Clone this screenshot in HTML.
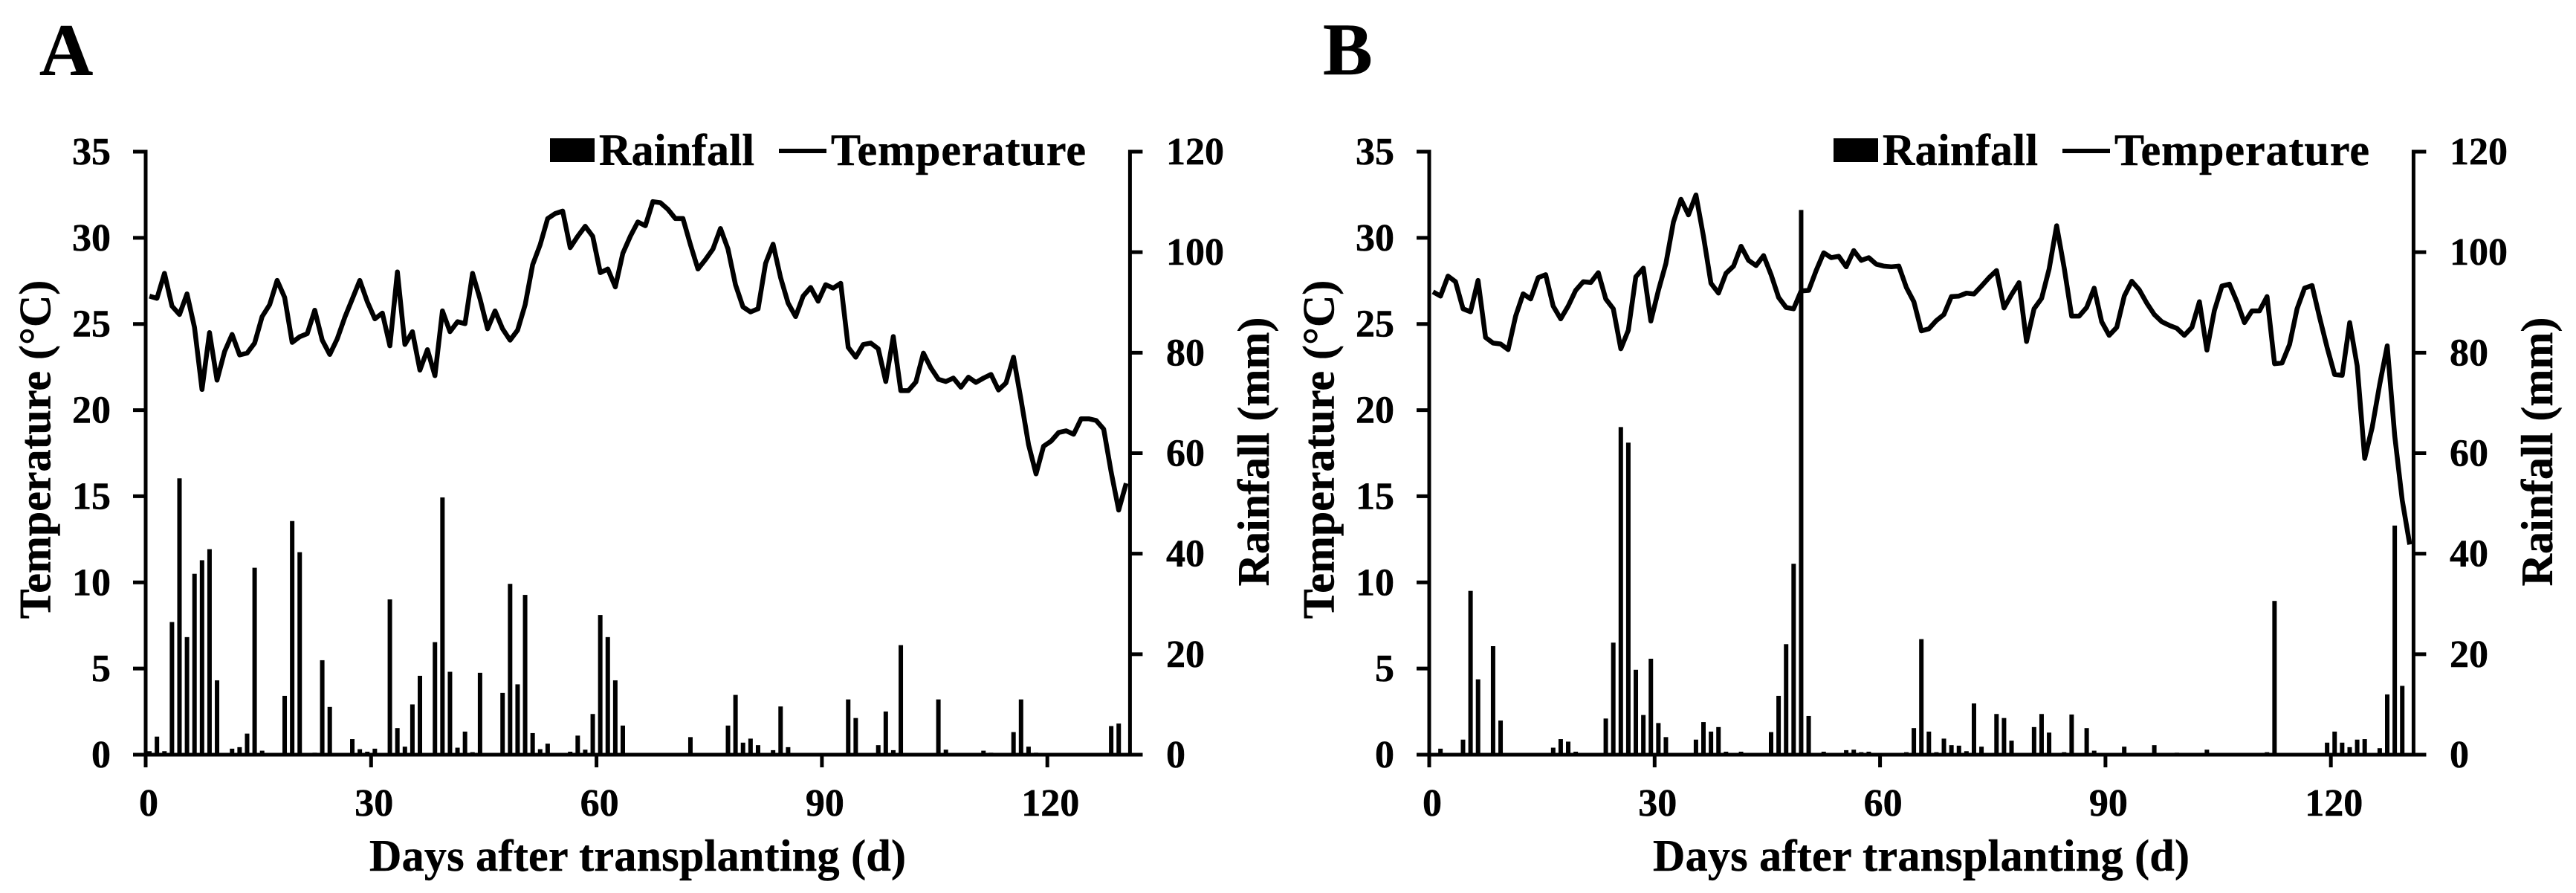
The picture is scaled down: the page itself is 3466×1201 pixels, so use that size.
<!DOCTYPE html>
<html lang="en">
<head>
<meta charset="utf-8">
<title>Rainfall and temperature after transplanting</title>
<style>
html,body{margin:0;padding:0;background:#fff;}
svg{display:block;}
text{font-family:"Liberation Serif","DejaVu Serif",serif;font-weight:bold;fill:#000;stroke:#000;stroke-width:0.5px;}
.tick{font-size:52px;}
.legend,.title{font-size:60px;}
.letter{font-size:100px;}
</style>
</head>
<body>
<svg id="chart" xmlns="http://www.w3.org/2000/svg" width="3466" height="1201" viewBox="0 0 3466 1201">
  <rect x="0" y="0" width="3466" height="1201" fill="#fff"/>

  <g id="panel-a">
    <text class="letter" x="53" y="101">A</text>
    <rect x="740" y="186" width="60" height="32" fill="#000"/>
    <text class="legend" x="806" y="222" textLength="209" lengthAdjust="spacing">Rainfall</text>
    <rect x="1048" y="200" width="64" height="6" fill="#000"/>
    <text class="legend" x="1118" y="222" textLength="343" lengthAdjust="spacing">Temperature</text>
    <text class="title" transform="translate(67.5,604.5) rotate(-90)" text-anchor="middle">Temperature (°C)</text>
    <text class="title" transform="translate(1707,607.5) rotate(-90)" text-anchor="middle">Rainfall (mm)</text>
    <text class="title" x="497" y="1171" textLength="722" lengthAdjust="spacing">Days after transplanting (d)</text>
  </g>

  <g id="panel-b" transform="translate(1727,0)">
    <text class="letter" x="53" y="100">B</text>
    <rect x="740" y="186" width="60" height="32" fill="#000"/>
    <text class="legend" x="806" y="222" textLength="209" lengthAdjust="spacing">Rainfall</text>
    <rect x="1048" y="200" width="64" height="6" fill="#000"/>
    <text class="legend" x="1118" y="222" textLength="343" lengthAdjust="spacing">Temperature</text>
    <text class="title" transform="translate(67.5,604.5) rotate(-90)" text-anchor="middle">Temperature (°C)</text>
    <text class="title" transform="translate(1707,607.5) rotate(-90)" text-anchor="middle">Rainfall (mm)</text>
    <text class="title" x="497" y="1171" textLength="722" lengthAdjust="spacing">Days after transplanting (d)</text>
  </g>
</svg>

<script>
const temperatureTicks = [0, 5, 10, 15, 20, 25, 30, 35];
const rainfallTicks = [0, 20, 40, 60, 80, 100, 120];
const dayTicks = [0, 30, 60, 90, 120];

const rainfallA = [
  0.7,3.6,0.7,26.4,55,23.4,36,38.7,40.9,14.8,
  0,1.2,1.5,4.2,37.2,0.8,0,0,11.7,46.5,
  40.3,0.3,0.4,18.8,9.5,0,0.1,3.1,1.1,0.6,
  1.2,0,30.9,5.3,1.6,10,15.7,0,22.4,51.2,
  16.5,1.4,4.6,0.5,16.3,0,0,12.3,34,14,
  31.8,4.3,1.1,2.2,0.3,0.1,0.6,3.8,1,8.1,
  27.8,23.4,14.8,5.8,0,0,0,0,0,0,
  0,0,3.5,0,0,0,0,5.8,11.9,2.4,
  3.2,1.9,0,0.9,9.6,1.5,0,0,0,0,
  0,0,0,11,7.3,0.2,0.2,1.9,8.6,0.9,
  21.8,0,0,0,0.3,11,1,0,0,0.2,
  0,0.8,0.4,0,0,4.5,11,1.6,0.4,0,
  0,0,0,0,0,0,0,0,5.7,6.2,0
];
const temperatureA = [
  26.62,26.49,27.94,26.04,25.55,26.75,24.8,21.2,24.5,21.74,
  23.4,24.39,23.2,23.31,23.89,25.43,26.12,27.53,26.54,23.93,
  24.26,24.44,25.8,24.06,23.23,24.14,25.38,26.45,27.53,26.29,
  25.3,25.63,23.73,28.02,23.81,24.55,22.32,23.51,22,25.76,
  24.55,25.13,25.02,27.94,26.45,24.72,25.76,24.72,24.06,24.64,
  26.12,28.44,29.6,31.12,31.41,31.55,29.43,30.09,30.67,30.09,
  27.98,28.19,27.15,29.1,30.09,30.92,30.7,32.1,32.04,31.66,
  31.12,31.12,29.6,28.19,28.74,29.35,30.54,29.35,27.28,25.99,
  25.7,25.88,28.52,29.63,27.69,26.21,25.43,26.62,27.12,26.32,
  27.28,27.08,27.36,23.64,23.07,23.81,23.89,23.56,21.66,24.27,
  21.13,21.13,21.63,23.31,22.45,21.79,21.66,21.86,21.33,21.91,
  21.61,21.86,22.07,21.17,21.58,23.07,20.6,18,16.3,17.9,
  18.2,18.7,18.8,18.6,19.5,19.5,19.4,18.9,16.4,14.2,15.75
];
const rainfallB = [
  0,1.2,0,0,3,32.6,15,0,21.6,6.8,
  0,0,0,0,0,0,1.4,3.1,2.6,0.6,
  0,0,0,7.2,22.3,65.2,62.1,16.9,7.9,19.1,
  6.3,3.5,0.2,0,0,3,6.5,4.6,5.5,0.6,
  0,0.6,0,0.2,0.3,4.5,11.7,22,38,108.4,
  7.7,0,0.6,0,0,0.9,1,0.5,0.6,0,
  0,0.2,0,0.5,5.3,23,4.6,0.5,3.2,1.9,
  1.8,0.7,10.2,1.6,0,8.1,7.3,2.8,0,0.3,
  5.5,8.1,4.4,0,0.5,8,0,5.3,0.8,0,
  0.2,0,1.6,0.2,0,0,1.9,0,0,0.4,
  0,0,0,1,0,0,0,0,0,0,
  0,0.5,30.6,0,0,0,0,0,0,2.4,
  4.6,2.4,1.5,3,3.1,0,1.3,12,45.6,13.7,0
];
const temperatureB = [
  26.87,26.62,27.78,27.45,25.88,25.71,27.53,24.22,23.89,23.84,
  23.51,25.46,26.75,26.45,27.69,27.86,26.04,25.3,26.04,26.95,
  27.45,27.41,27.98,26.45,25.88,23.56,24.64,27.74,28.24,25.17,
  26.95,28.52,30.92,32.24,31.33,32.49,30.09,27.36,26.79,27.94,
  28.36,29.51,28.69,28.39,28.97,27.86,26.54,25.96,25.88,26.92,
  26.95,28.11,29.13,28.85,28.93,28.32,29.26,28.69,28.85,28.47,
  28.36,28.32,28.36,27.12,26.29,24.6,24.72,25.2,25.55,26.59,
  26.62,26.79,26.74,27.2,27.69,28.1,25.93,26.7,27.4,23.98,
  25.88,26.49,28.19,30.7,28.27,25.46,25.46,25.96,27.08,25.13,
  24.34,24.8,26.62,27.48,26.98,26.21,25.55,25.13,24.92,24.75,
  24.34,24.8,26.29,23.48,25.79,27.2,27.31,26.29,25.08,25.76,
  25.76,26.59,22.69,22.74,23.81,25.88,27.08,27.23,25.38,23.64,
  22.07,22.02,25.08,22.57,17.2,19,21.5,23.73,18.5,14.77,12.2
];

const SVG_NS = "http://www.w3.org/2000/svg";
const plotLeft = 196;
const plotRight = 1520.4;
const plotTop = 204;
const plotBottom = 1015;
const categoryCount = 131;
const dayStep = (plotRight - plotLeft) / categoryCount;

function xValue(day) { return plotLeft + day * dayStep; }
function xCategory(index) { return plotLeft + (index + 0.5) * dayStep; }
function yTemperature(v) { return plotBottom - (v / 35) * (plotBottom - plotTop); }
function yRainfall(v) { return plotBottom - (v / 120) * (plotBottom - plotTop); }

function make(parent, tag, attrs, content) {
  const el = document.createElementNS(SVG_NS, tag);
  for (const key in attrs) el.setAttribute(key, attrs[key]);
  if (content !== undefined) el.textContent = content;
  parent.appendChild(el);
  return el;
}

function drawPanel(panelId, rainfall, temperature) {
  const panel = document.getElementById(panelId);
  const stroke = { stroke: "#000", "stroke-width": 5, fill: "none" };

  const bars = make(panel, "g", {});
  
  
  rainfall.forEach(function (value, i) {
    if (value <= 0) return;
    const y = yRainfall(value);
    const bar = make(bars, "rect", { x: xCategory(i) - 3, y: y, width: 6, height: plotBottom - y, fill: "#000" });
    
    
  });

  const leftAxis = make(panel, "line", Object.assign({ x1: plotLeft, x2: plotLeft, y1: plotTop - 2.5, y2: plotBottom + 17 }, stroke));
  
  

  const rightAxis = make(panel, "line", Object.assign({ x1: plotRight, x2: plotRight, y1: plotTop - 2.5, y2: plotBottom }, stroke));
  
  

  const bottomAxis = make(panel, "line", Object.assign({ x1: plotLeft - 17, x2: plotRight + 17, y1: plotBottom, y2: plotBottom }, stroke));
  
  

  temperatureTicks.forEach(function (value) {
    const y = yTemperature(value);
    const tick = make(panel, "line", Object.assign({ x1: plotLeft - 17, x2: plotLeft, y1: y, y2: y }, stroke));
    
    
    const label = make(panel, "text", { class: "tick", x: 149, y: y + 17, "text-anchor": "end" }, String(value));
    
    
  });

  rainfallTicks.forEach(function (value) {
    const y = yRainfall(value);
    const tick = make(panel, "line", Object.assign({ x1: plotRight, x2: plotRight + 17, y1: y, y2: y }, stroke));
    
    
    const label = make(panel, "text", { class: "tick", x: 1569, y: y + 17 }, String(value));
    
    
  });

  dayTicks.forEach(function (value) {
    const x = xValue(value);
    const tick = make(panel, "line", Object.assign({ x1: x, x2: x, y1: plotBottom, y2: plotBottom + 17 }, stroke));
    
    
    const label = make(panel, "text", { class: "tick", x: x + 4, y: 1097, "text-anchor": "middle" }, String(value));
    
    
  });

  const points = temperature.map(function (value, i) {
    return xCategory(i).toFixed(1) + "," + yTemperature(value).toFixed(1);
  }).join(" ");
  const line = make(panel, "polyline", { points: points, fill: "none", stroke: "#000", "stroke-width": 6.5, "stroke-linejoin": "round" });
  
  
}

drawPanel("panel-a", rainfallA, temperatureA);
drawPanel("panel-b", rainfallB, temperatureB);
</script>
</body>
</html>
